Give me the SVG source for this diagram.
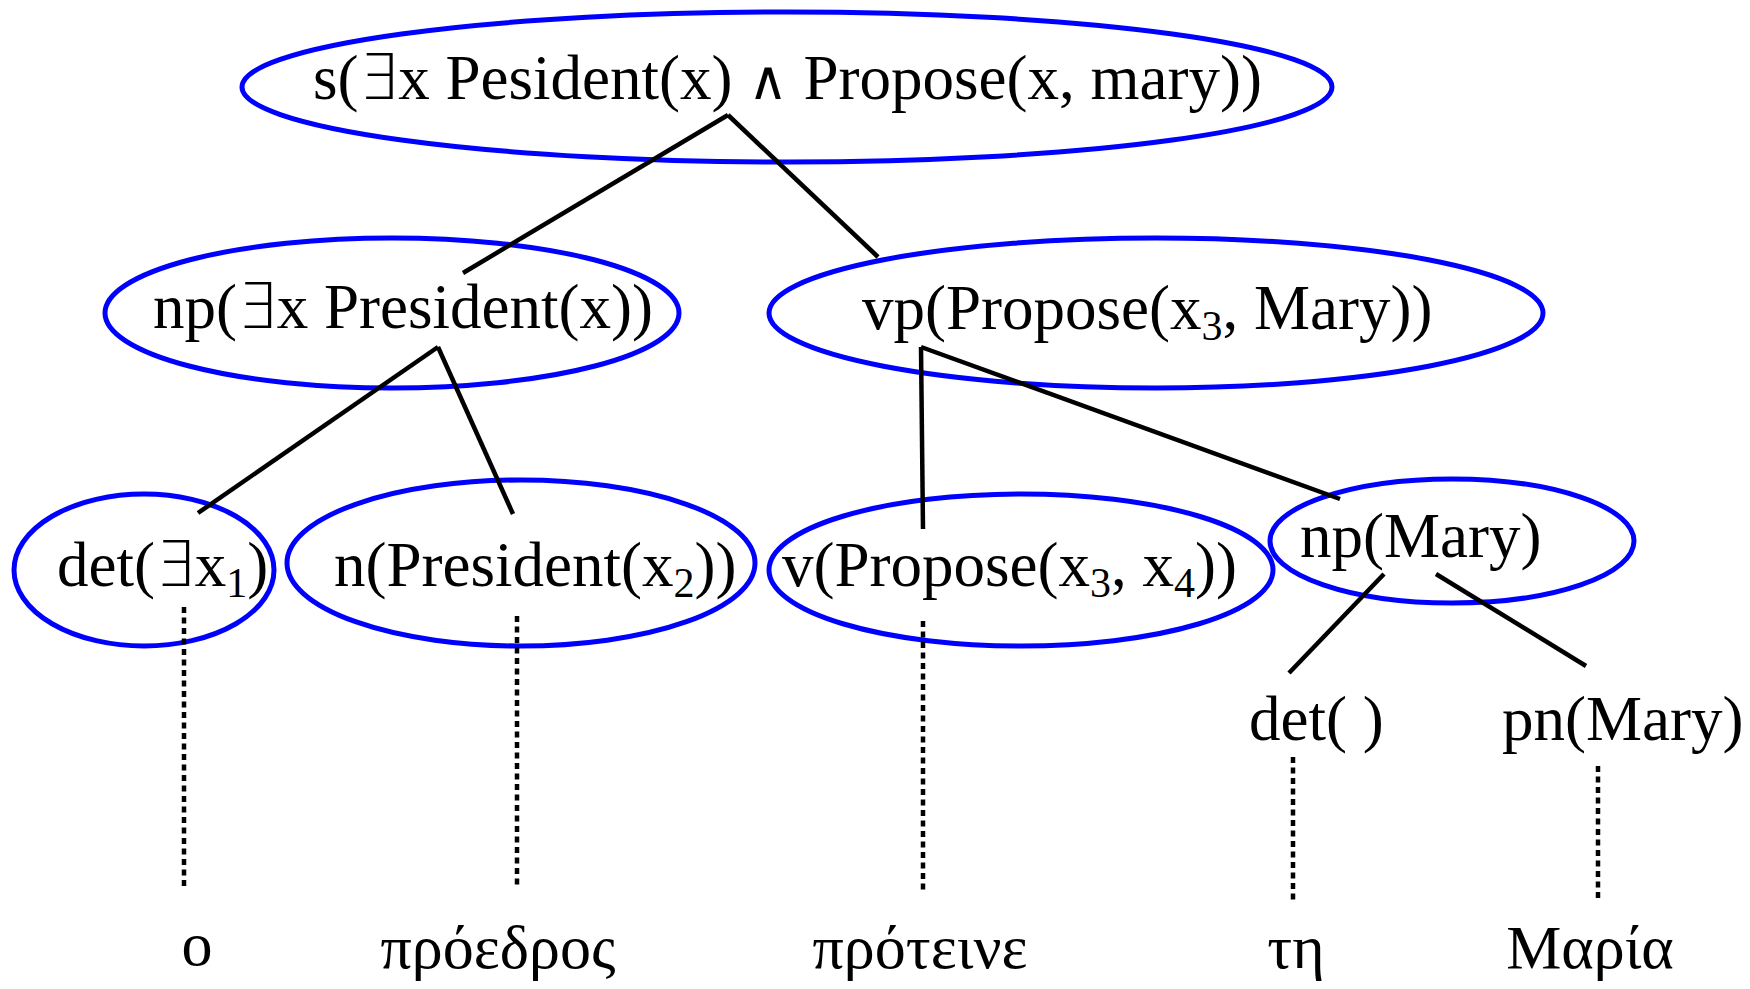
<svg xmlns="http://www.w3.org/2000/svg" width="1750" height="989" viewBox="0 0 1750 989">
<style>
.node{fill:none;stroke:#0000ff;stroke-width:5}
.t{font-family:"Liberation Serif","DejaVu Serif",serif;font-size:63px;fill:#000}
.sub{font-size:42px}
.m{font-family:"DejaVu Sans","DejaVu Serif",serif;font-weight:200}
.and{font-family:"DejaVu Sans","DejaVu Serif",serif;font-weight:200;font-size:54px}
.edge{stroke:#000;stroke-width:4.5;fill:none}
.dot{stroke:#000;stroke-width:4.5;fill:none;stroke-dasharray:6 4.5}
.w{font-family:"Liberation Serif","DejaVu Serif",serif;font-size:62px;fill:#000;text-anchor:middle}
</style>
<rect width="1750" height="989" fill="#fff"/>
<g id="s">
<ellipse class="node" cx="787" cy="87" rx="545" ry="75"/>
<text class="t" x="313" y="99">s(<tspan class="m">∃</tspan>x Pesident(x) <tspan class="and">∧</tspan> Propose(x, mary))</text>
</g>
<g id="np">
<ellipse class="node" cx="392" cy="313" rx="287" ry="75"/>
<text class="t" x="153" y="328">np(<tspan class="m">∃</tspan>x President(x))</text>
</g>
<g id="vp">
<ellipse class="node" cx="1156" cy="313" rx="387" ry="75"/>
<text class="t" x="862" y="329">vp(Propose(x<tspan class="sub" dy="11">3</tspan><tspan dy="-11">, Mary))</tspan></text>
</g>
<g id="det">
<ellipse class="node" cx="144" cy="570" rx="130" ry="76"/>
<text class="t" x="57" y="586">det(<tspan class="m">∃</tspan>x<tspan class="sub" dy="11">1</tspan><tspan dy="-11">)</tspan></text>
</g>
<g id="n">
<ellipse class="node" cx="521" cy="563" rx="234" ry="83"/>
<text class="t" x="334" y="586">n(President(x<tspan class="sub" dy="11">2</tspan><tspan dy="-11">))</tspan></text>
</g>
<g id="v">
<ellipse class="node" cx="1021" cy="570" rx="252" ry="76"/>
<text class="t" x="782" y="586">v(Propose(x<tspan class="sub" dy="11">3</tspan><tspan dy="-11">, x</tspan><tspan class="sub" dy="11">4</tspan><tspan dy="-11">))</tspan></text>
</g>
<g id="npMary">
<ellipse class="node" cx="1452" cy="541" rx="182" ry="62"/>
<text class="t" x="1300" y="557">np(Mary)</text>
</g>
<g id="det2">
<text class="t" x="1249" y="740">det( )</text>
</g>
<g id="pn">
<text class="t" x="1502" y="740">pn(Mary)</text>
</g>
<g id="words">
<text class="w" x="197" y="965">ο</text>
<text class="w" x="498" y="968">πρόεδρος</text>
<text class="w" x="920" y="968">πρότεινε</text>
<text class="w" x="1296" y="968">τη</text>
<text class="w" x="1590" y="968">Μαρία</text>
</g>
<g id="connectors">
<line class="edge" x1="728" y1="115" x2="463" y2="273"/>
<line class="edge" x1="728" y1="115" x2="878" y2="257"/>
<line class="edge" x1="438" y1="347" x2="198" y2="513"/>
<line class="edge" x1="438" y1="347" x2="513" y2="514"/>
<line class="edge" x1="921" y1="347" x2="923" y2="529"/>
<line class="edge" x1="921" y1="347" x2="1340" y2="499"/>
<line class="edge" x1="1384" y1="574" x2="1289" y2="673"/>
<line class="edge" x1="1436" y1="574" x2="1586" y2="666"/>
<line class="dot" x1="184" y1="607" x2="184" y2="887"/>
<line class="dot" x1="517" y1="616" x2="517" y2="885"/>
<line class="dot" x1="923" y1="621" x2="923" y2="894"/>
<line class="dot" x1="1293" y1="757" x2="1293" y2="904"/>
<line class="dot" x1="1598" y1="766" x2="1598" y2="900"/>
</g>
</svg>
